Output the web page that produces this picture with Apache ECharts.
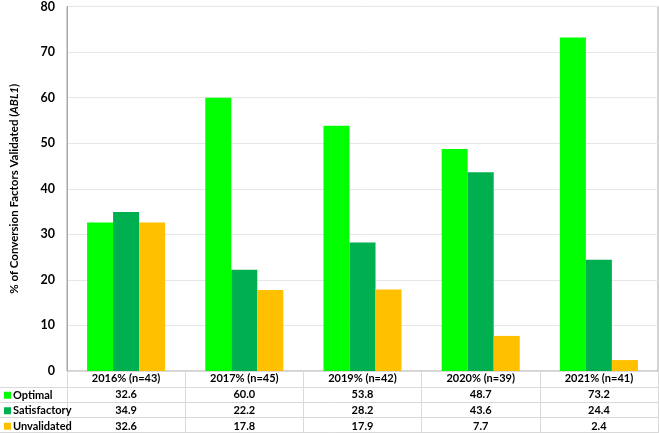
<!DOCTYPE html>
<html><head><meta charset="utf-8">
<script src="https://cdn.jsdelivr.net/npm/echarts@6/dist/echarts.min.js"></script>
<style>html,body{margin:0;padding:0;background:#fff}#c{width:659px;height:435px}</style>
</head><body><div id="c"></div>
<script>
var categories = ['2016% (n=43)', '2017% (n=45)', '2019% (n=42)', '2020% (n=39)', '2021% (n=41)'];
var optimal = [32.6, 60.0, 53.8, 48.7, 73.2];
var satisfactory = [34.9, 22.2, 28.2, 43.6, 24.4];
var unvalidated = [32.6, 17.8, 17.9, 7.7, 2.4];
var seriesNames = ['Optimal', 'Satisfactory', 'Unvalidated'];
var yTicks = [0, 10, 20, 30, 40, 50, 60, 70, 80];

var FONT = 'Lato';
var chart = echarts.init(document.getElementById('c'));
var lineColor = '#d9d9d9';
chart.setOption({
  animation: false,
  textStyle: {fontFamily: FONT},
  grid: {left: 67, right: 1, top: 4, bottom: 64, show: true, borderColor: '#a6a6a6', borderWidth: 1},
  legend: {
    orient: 'vertical', left: 4, top: 387.5, itemGap: 0, itemWidth: 7, itemHeight: 7, padding: 0,
    icon: 'rect', data: seriesNames, height: 60,
    textStyle: {fontFamily: FONT, fontWeight: 'bold', fontSize: 11, color: '#000', lineHeight: 15.5, padding: [0, 0, 0, -3]}
  },
  xAxis: {
    type: 'category', data: categories,
    axisLine: {lineStyle: {color: lineColor}},
    axisTick: {show: true, length: 62, lineStyle: {color: lineColor}},
    axisLabel: {
      margin: 0, interval: 0,
      formatter: function (v, i) {
        return v + '\n' + optimal[i].toFixed(1) + '\n' + satisfactory[i].toFixed(1) + '\n' + unvalidated[i].toFixed(1);
      },
      fontFamily: FONT, fontWeight: 'bold', fontSize: 11, color: '#000', lineHeight: 15.8, verticalAlign: 'top'
    }
  },
  yAxis: {
    type: 'value', min: 0, max: 80, interval: 10,
    name: '% of Conversion Factors Validated ({i|ABL1})',
    nameLocation: 'middle', nameGap: 47, nameRotate: 90,
    nameTextStyle: {fontFamily: FONT, fontWeight: 'bold', fontSize: 11.5, color: '#000',
      rich: {i: {fontStyle: 'italic', fontWeight: 'bold', fontSize: 11.5, fontFamily: FONT, color: '#000'}}},
    axisLine: {show: true, lineStyle: {color: '#a6a6a6'}},
    axisTick: {show: false},
    axisLabel: {fontFamily: FONT, fontWeight: 'bold', fontSize: 12.5, color: '#000', margin: 12,
      formatter: function (v) { return yTicks.indexOf(v) >= 0 ? String(v) : ''; }},
    splitLine: {lineStyle: {color: '#e6e6e6'}}
  },
  series: [
    {name: seriesNames[0], type: 'bar', data: optimal, itemStyle: {color: '#00ff00'}, barGap: '0%', barCategoryGap: '34%'},
    {name: seriesNames[1], type: 'bar', data: satisfactory, itemStyle: {color: '#00b050'}},
    {name: seriesNames[2], type: 'bar', data: unvalidated, itemStyle: {color: '#ffc000'}}
  ],
  graphic: [
    {type: 'line', shape: {x1: 0, y1: 387.5, x2: 659, y2: 387.5}, style: {stroke: lineColor, lineWidth: 1}},
    {type: 'line', shape: {x1: 0, y1: 402.5, x2: 659, y2: 402.5}, style: {stroke: lineColor, lineWidth: 1}},
    {type: 'line', shape: {x1: 0, y1: 417.5, x2: 659, y2: 417.5}, style: {stroke: lineColor, lineWidth: 1}},
    {type: 'line', shape: {x1: 0, y1: 432.5, x2: 659, y2: 432.5}, style: {stroke: lineColor, lineWidth: 1}}
  ]
});
</script></body></html>
